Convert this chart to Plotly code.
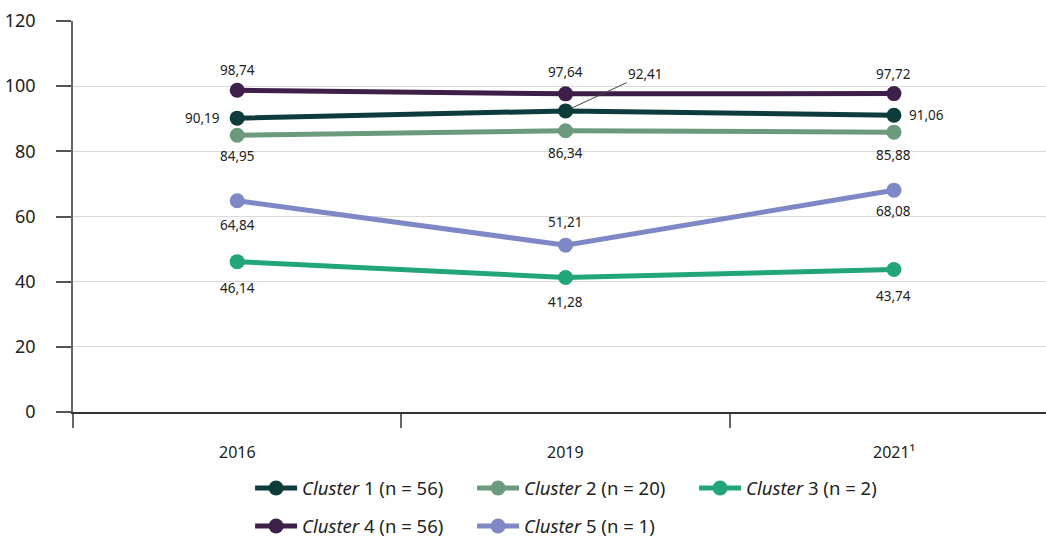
import plotly.graph_objects as go

years = ["2016", "2019", "2021\u00b9"]
x_pos = [0, 1, 2]

cluster_names = [
    "<i>Cluster</i> 1 (n = 56)",
    "<i>Cluster</i> 2 (n = 20)",
    "<i>Cluster</i> 3 (n = 2)",
    "<i>Cluster</i> 4 (n = 56)",
    "<i>Cluster</i> 5 (n = 1)",
]
cluster1 = [90.19, 92.41, 91.06]
cluster2 = [84.95, 86.34, 85.88]
cluster3 = [46.14, 41.28, 43.74]
cluster4 = [98.74, 97.64, 97.72]
cluster5 = [64.84, 51.21, 68.08]

colors = ["#0e3b3b", "#6b9a7c", "#22a678", "#3e1f4a", "#7f88c6"]

# value-label offsets in pixels (dx, dy); None = labelled with a leader line
label_offsets = [
    [(-35, 0), None, (33, 0)],
    [(0, -21), (0, -22), (0, -23)],
    [(0, -26), (0, -24), (0, -27)],
    [(0, 20), (0, 22), (0, 20)],
    [(0, -24), (0, 23), (0, -21)],
]

series = [cluster1, cluster2, cluster3, cluster4, cluster5]
legend_ids = ["legend", "legend", "legend", "legend2", "legend2"]

def fmt(v):
    return f"{v:.2f}".replace(".", ",")

FONT = "Noto Sans"
LABEL_FONT = dict(family=FONT, size=13.5, color="#222222")
fig = go.Figure()

for i, vals in enumerate(series):
    fig.add_trace(go.Scatter(
        x=x_pos, y=vals, name=cluster_names[i],
        mode="lines+markers",
        line=dict(color=colors[i], width=5),
        marker=dict(color=colors[i], size=15),
        legend=legend_ids[i], cliponaxis=False,
    ))
    for j, v in enumerate(vals):
        off = label_offsets[i][j]
        if off is None:
            continue
        fig.add_annotation(
            x=x_pos[j], y=v, xref="x", yref="y", text=fmt(v), showarrow=False,
            xshift=off[0], yshift=off[1], font=LABEL_FONT,
        )

# Cluster 1, 2019 label with leader line
fig.add_annotation(
    x=x_pos[1], y=cluster1[1], xref="x", yref="y",
    text=fmt(cluster1[1]), showarrow=True, arrowhead=0, arrowwidth=1,
    arrowcolor="#444444", ax=80, ay=-37, standoff=7,
    font=LABEL_FONT,
)

# category labels
for xp, yr in zip(x_pos, years):
    fig.add_annotation(
        x=xp, y=-0.102, xref="x", yref="paper", text=yr, showarrow=False,
        font=dict(family=FONT, size=16, color="#222222"), yanchor="middle",
    )

legend_style = dict(
    orientation="h", x=0.182, xanchor="left", yanchor="top",
    font=dict(family=FONT, size=18.5, color="#222222"),
    entrywidth=165, itemwidth=42, traceorder="normal",
)

fig.update_layout(
    width=1046, height=538,
    margin=dict(l=73, r=0, t=21, b=126, autoexpand=False),
    paper_bgcolor="white", plot_bgcolor="white",
    font=dict(family=FONT, size=16, color="#222222"),
    legend=dict(y=-0.147, **legend_style),
    legend2=dict(y=-0.244, **legend_style),
)

fig.update_xaxes(
    range=[-0.5, 2.463], tickvals=[-0.5, 0.5, 1.5, 2.5], ticktext=["", "", "", ""],
    ticks="outside", ticklen=14, tickcolor="#666666", tickwidth=1.5,
    showgrid=False, showline=True, linecolor="#333333", linewidth=1.5,
    zeroline=False,
)
fig.update_yaxes(
    range=[0, 120], tickvals=[0, 20, 40, 60, 80, 100, 120],
    ticks="outside", ticklen=15, tickcolor="#555555", tickwidth=1.5,
    ticklabelstandoff=17,
    showline=True, linecolor="#666666", linewidth=1.5,
    showgrid=True, gridcolor="#d9d9d9", gridwidth=1, zeroline=False,
    tickfont=dict(family=FONT, size=18, color="#222222"),
)

fig.write_html("out.html")
